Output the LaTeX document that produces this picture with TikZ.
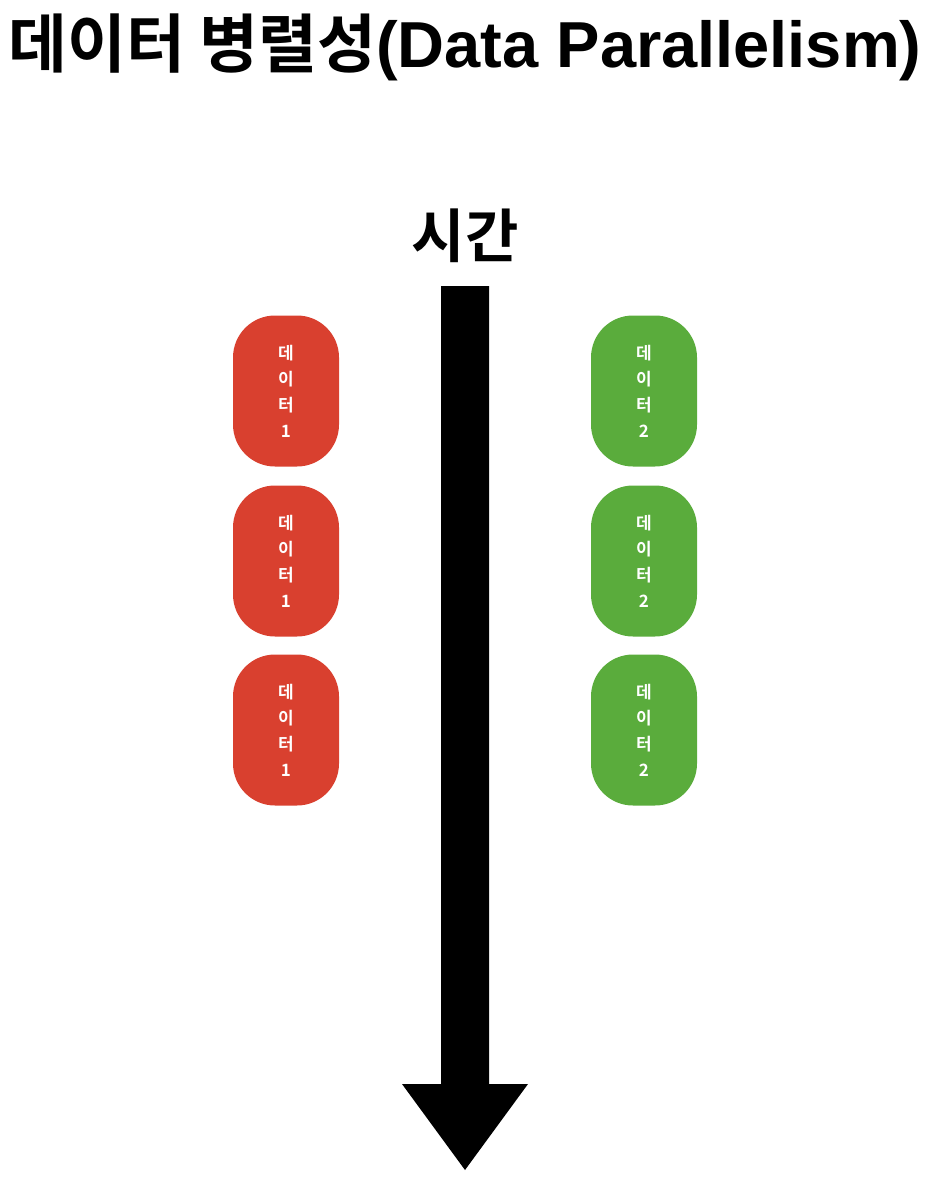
\documentclass[tikz,border=0pt]{standalone}
\usepackage{fontspec}
\newfontfamily\krb{Noto Sans CJK KR Bold}
\newfontfamily\latb{Liberation Sans Bold}
\definecolor{dred}{RGB}{217,64,47}
\definecolor{dgreen}{RGB}{90,172,60}
\begin{document}
\begin{tikzpicture}[x=1pt,y=-1pt,
  databox/.style={rounded corners=42pt,minimum width=106pt,minimum height=151pt,inner sep=0pt,
    text=white,align=center,font=\krb\fontsize{17}{26}\selectfont},
  redbox/.style={databox,fill=dred},
  greenbox/.style={databox,fill=dgreen}]
\useasboundingbox (0,0) rectangle (936,1196);
\node (title) at (465,47) {\krb\fontsize{64}{72}\selectfont 데이터 병렬성{\latb\fontsize{65}{72}\selectfont(Data Parallelism)}};
\node (time) at (465,236) {\krb\fontsize{58}{64}\selectfont 시간};
\fill (441,286) -- (489,286) -- (489,1084) -- (528,1084) -- (465,1170) -- (402,1084) -- (441,1084) -- cycle;
\node[redbox] (r1) at (286,391) {데\\이\\터\\1};
\node[redbox] (r2) at (286,561) {데\\이\\터\\1};
\node[redbox] (r3) at (286,730) {데\\이\\터\\1};
\node[greenbox] (g1) at (644,391) {데\\이\\터\\2};
\node[greenbox] (g2) at (644,561) {데\\이\\터\\2};
\node[greenbox] (g3) at (644,730) {데\\이\\터\\2};
\end{tikzpicture}
\end{document}
